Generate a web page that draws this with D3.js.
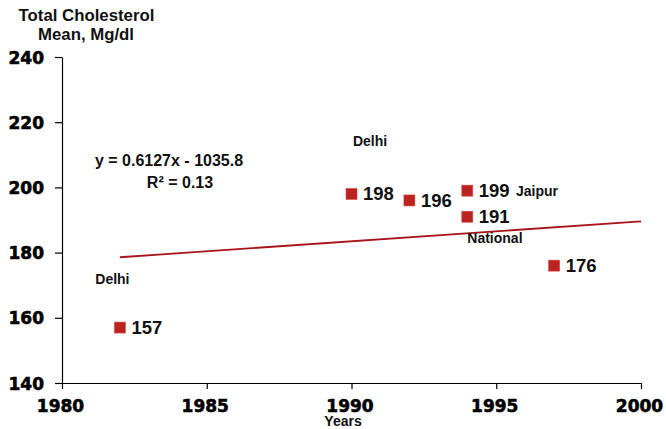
<!DOCTYPE html>
<html><head><meta charset="utf-8">
<script src="https://cdn.jsdelivr.net/npm/d3@7"></script>
<style>body{margin:0;background:#fff;}svg{display:block;font-family:"Liberation Sans",Arial,sans-serif;}</style>
</head><body>
<svg id="c" width="666" height="429"></svg>
<script>
const years = [1982, 1990, 1992, 1994, 1994, 1997];
const values = [157, 198, 196, 199, 191, 176];
const xTicks = [1980, 1985, 1990, 1995, 2000];
const yTicks = [140, 160, 180, 200, 220, 240];
const placeLabels = [
  {text: "Delhi", year: 1981.15, value: 170.3},
  {text: "Delhi", year: 1990.05, value: 212.8},
  {text: "Jaipur", year: 1995.68, value: 197.5},
  {text: "National", year: 1994.0, value: 182.8}
];
const slope = 0.6127, intercept = -1035.8;
const trendRange = [1982, 2000];

const svg = d3.select("#c");
const x = d3.scaleLinear().domain([1980, 2000]).range([62, 641]);
const y = d3.scaleLinear().domain([140, 240]).range([383, 57]);

const yAxis = svg.append("g").attr("transform", "translate(62,0)")
  .call(d3.axisLeft(y).tickValues(yTicks).tickSize(7).tickPadding(11).tickSizeOuter(0));
const xAxis = svg.append("g").attr("transform", "translate(0,383)")
  .call(d3.axisBottom(x).tickValues(xTicks).tickFormat(d3.format("d")).tickSize(6).tickPadding(11).tickSizeOuter(0));
[yAxis, xAxis].forEach(a => {
  a.select(".domain").attr("stroke", "#000").attr("stroke-width", 1.2);
  a.selectAll(".tick line").attr("stroke", "#000").attr("stroke-width", 1.2);
  a.selectAll("text").attr("fill", "#000").attr("font-size", 17).attr("font-weight", "bold")
    .attr("stroke", "#000").attr("stroke-width", 0.6)
    .style("font-family", "'DejaVu Sans','Liberation Sans',Arial,sans-serif");
});
yAxis.selectAll("text").attr("dy", "0.36em");
xAxis.selectAll("text").attr("dy", "0.71em").attr("dx", -2);

// trend line
svg.append("line")
  .attr("x1", x(trendRange[0])).attr("y1", y(slope * trendRange[0] + intercept))
  .attr("x2", x(trendRange[1])).attr("y2", y(slope * trendRange[1] + intercept))
  .attr("stroke", "#a8141a").attr("stroke-width", 1.8);

// markers
const s = 11;
const pts = years.map((d, i) => ({year: d, value: values[i]}));
svg.selectAll("rect.pt").data(pts).join("rect")
  .attr("class", "pt")
  .attr("x", d => x(d.year) - s / 2).attr("y", d => y(d.value) - s / 2)
  .attr("width", s).attr("height", s)
  .attr("fill", "#bb2320").attr("stroke", "#d24a45").attr("stroke-width", 0.6);

svg.selectAll("text.val").data(pts).join("text")
  .attr("class", "val")
  .attr("x", d => x(d.year) + 11.5).attr("y", d => y(d.value) + 6.5)
  .attr("font-size", 18.5).attr("font-weight", "bold").attr("fill", "#111")
  .text(d => d.value);

svg.selectAll("text.place").data(placeLabels).join("text")
  .attr("class", "place")
  .attr("x", d => x(d.year)).attr("y", d => y(d.value))
  .attr("font-size", 14).attr("font-weight", "bold").attr("fill", "#111")
  .text(d => d.text);

// equation
svg.append("text").attr("x", 169).attr("y", 166).attr("text-anchor", "middle")
  .attr("font-size", 16).attr("font-weight", "bold").attr("fill", "#111")
  .text("y = 0.6127x - 1035.8");
svg.append("text").attr("x", 180).attr("y", 188).attr("text-anchor", "middle")
  .attr("font-size", 16).attr("font-weight", "bold").attr("fill", "#111")
  .text("R² = 0.13");

// titles
svg.append("text").attr("x", 86.5).attr("y", 21).attr("text-anchor", "middle")
  .attr("font-size", 16.8).attr("font-weight", "bold").attr("fill", "#111")
  .text("Total Cholesterol");
svg.append("text").attr("x", 86).attr("y", 40).attr("text-anchor", "middle")
  .attr("font-size", 16.8).attr("font-weight", "bold").attr("fill", "#111")
  .text("Mean, Mg/dl");
svg.append("text").attr("x", 343).attr("y", 426).attr("text-anchor", "middle")
  .attr("font-size", 14).attr("font-weight", "bold").attr("fill", "#111")
  .text("Years");
</script>
</body></html>
